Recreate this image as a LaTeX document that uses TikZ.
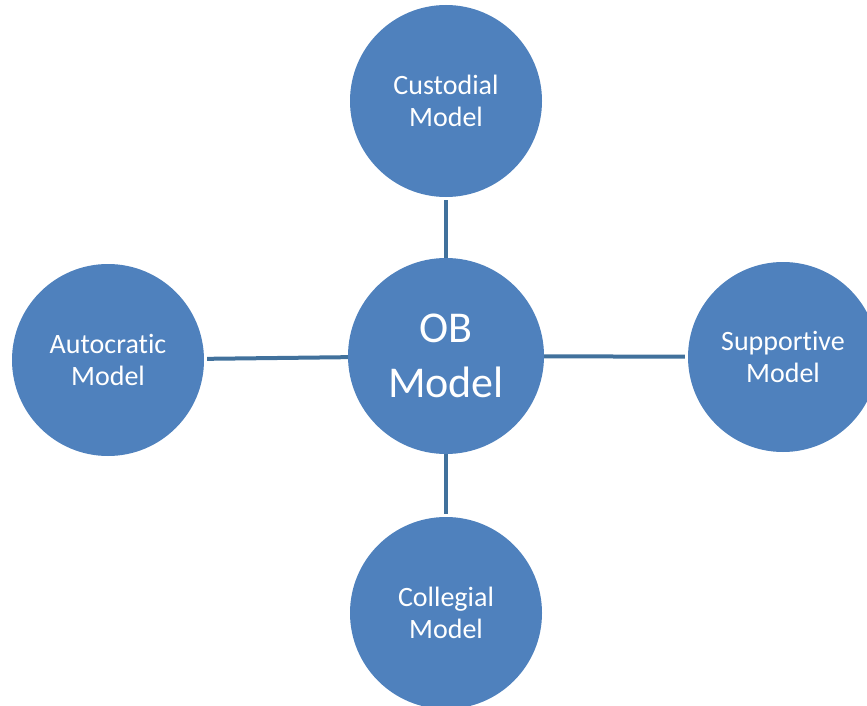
\documentclass[tikz,border=0pt]{standalone}
\usepackage{fontspec}
\setmainfont{Carlito}[Ligatures=NoCommon]
\definecolor{ModelBlue}{HTML}{4F81BD}
\definecolor{LinkBlue}{HTML}{41719C}
\begin{document}
\begin{tikzpicture}[
    x=1pt, y=-1pt,
    model/.style={circle, fill=ModelBlue, minimum size=192pt, inner sep=0pt,
      text=white, align=center, font=\fontsize{28}{32}\selectfont},
    link/.style={draw=LinkBlue, line width=4pt, shorten >=3pt}
    ]

    \useasboundingbox (0,0) rectangle (867,706);
    \clip (0,0) rectangle (867,706);

    \node[model, minimum size=196pt, font=\fontsize{44}{55}\selectfont] (ob) at (446,356) {OB\\Model};
    \node[model] (custodial)  at (446,101) {Custodial\\Model};
    \node[model] (autocratic) at (108,360) {Autocratic\\Model};
    \node[model, minimum size=190pt] (supportive) at (783,357) {Supportive\\Model};
    \node[model] (collegial)  at (446,613) {Collegial\\Model};

    \draw[link] (ob) -- (custodial);
    \draw[link] (ob) -- (autocratic);
    \draw[link] (ob) -- (supportive);
    \draw[link] (ob) -- (collegial);

\end{tikzpicture}
\end{document}
